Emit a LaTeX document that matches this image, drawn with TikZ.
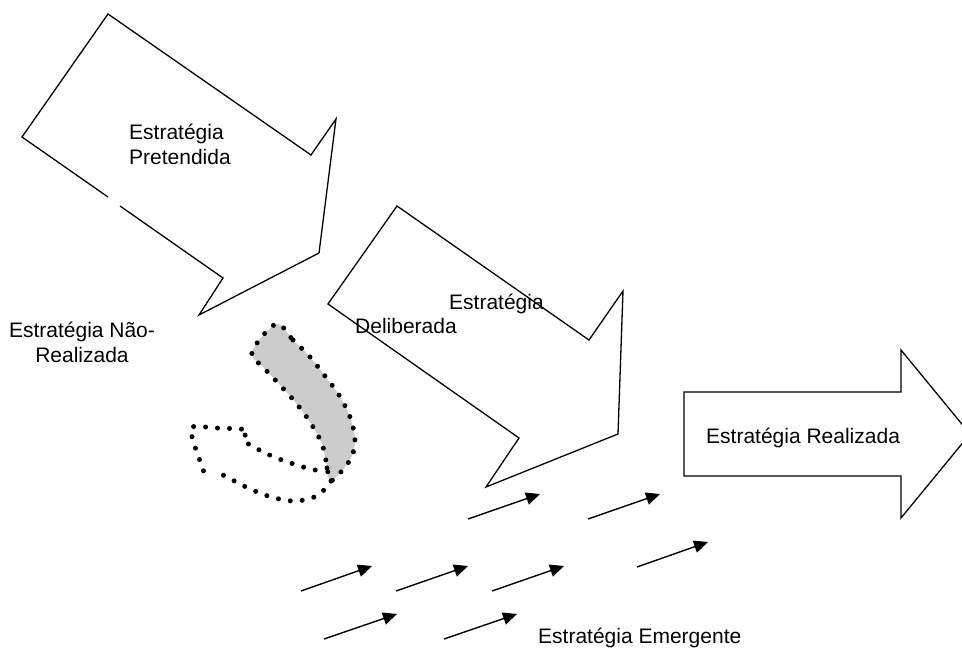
\documentclass[tikz,border=0pt]{standalone}
\usepackage{fontspec}
\setmainfont{Liberation Sans}
\usetikzlibrary{arrows.meta}
\begin{document}
\begin{tikzpicture}[x=1pt,y=-1pt,
  outline/.style={line width=1.3pt,line join=miter},
  label/.style={inner sep=0pt,anchor=base west,font=\fontsize{21}{25}\selectfont},
  dotline/.style={line width=5pt,line cap=round,dash pattern=on 0pt off 12pt},
  emarrow/.style={line width=1.4pt,-{Triangle[length=14pt,width=12.5pt]}}]
\useasboundingbox (0,0) rectangle (962,648);
\clip (0,0) rectangle (962,648);

% intended strategy (open where the label box cuts its lower edge)
\draw[outline] (120,206) -- (223,278) -- (199,315) -- (319,253) -- (336,119)
  -- (311,155) -- (108,14) -- (22,137) -- (108,197);
\node[label,align=left] (pret) at (129,164) {Estratégia\\Pretendida};

% deliberate strategy
\draw[outline] (397,206) -- (589,340) -- (623,291) -- (618,434) -- (486,487)
  -- (519,438) -- (328,304) -- cycle;
\node[label] (delib1) at (449,309) {Estratégia};
\node[label] (delib2) at (355,333) {Deliberada};

% realized strategy
\draw[outline] (684,392) -- (901,392) -- (901,350) -- (970,434) -- (901,518)
  -- (901,476) -- (684,476) -- cycle;
\node[label] (real) at (706,443) {Estratégia Realizada};

% unrealized strategy
\node[inner sep=0pt,anchor=base,align=center,font=\fontsize{21}{25}\selectfont]
  (nreal) at (82,362) {Estratégia Não-\\Realizada};

% shaded, dotted blob
\fill[black!20] plot[smooth cycle,tension=0.55] coordinates {
  (276,324) (293,340) (310,357) (325,376) (339,395) (350,417) (355,440)
  (350,460) (331,481) (327,466) (322,444) (310,422) (296,403) (280,385)
  (264,368) (252,352)};
\draw[dotline] plot[smooth cycle,tension=0.55] coordinates {
  (276,324) (293,340) (310,357) (325,376) (339,395) (350,417) (355,440)
  (350,460) (331,481) (327,466) (322,444) (310,422) (296,403) (280,385)
  (264,368) (252,352)};
\draw[dotline] plot[smooth,tension=0.55] coordinates {
  (327,468) (315,470) (297,465) (274,457) (252,446) (243,439) (248,431)
  (240,429) (216,428) (192,427) (193,440) (199,458) (207,481)};
\draw[dotline] plot[smooth,tension=0.55] coordinates {
  (331,481) (324,490) (312,498) (292,501) (268,496) (246,487) (225,476)
  (214,471)};

% emergent strategy arrows
\foreach \n/\xa/\ya/\xb/\yb in {1/468/519/540/494, 2/588/519/660/494,
    3/637/567/708/542, 4/301/591/372/566, 5/396/591/468/566,
    6/492/591/564/566, 7/324/639/397/614, 8/444/639/517/614} {
  \coordinate (em\n a) at (\xa,\ya);
  \coordinate (em\n b) at (\xb,\yb);
  \draw[emarrow] (em\n a) -- (em\n b);
}
\node[label] (emerg) at (538,643) {Estratégia Emergente};
\end{tikzpicture}
\end{document}
